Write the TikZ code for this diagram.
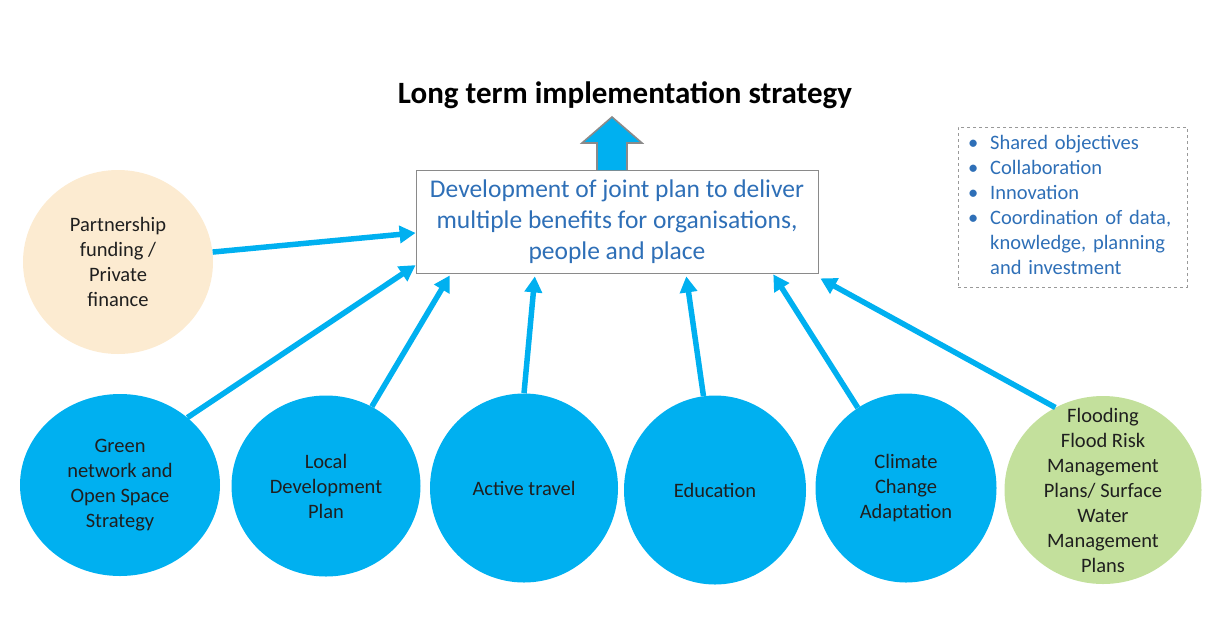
\documentclass[tikz,border=0pt]{standalone}
\usepackage{fontspec}
\setmainfont{Carlito}
\usetikzlibrary{shapes.geometric,arrows.meta,calc}

\definecolor{cyanblue}{HTML}{00B0F0}
\definecolor{peach}{HTML}{FCEBD1}
\definecolor{leafgreen}{HTML}{C3E09C}
\definecolor{plantext}{HTML}{2E6FB7}
\definecolor{edgegray}{HTML}{8A8A8A}

\tikzset{
	topic/.style = {ellipse, fill = cyanblue, inner sep = 0pt, align = center, text = black!88, font = \fontsize{20.5}{25}\selectfont},
	feed/.style = {draw = cyanblue, line width = 5.5pt, -{Triangle[length = 16pt, width = 17pt]}},
	planbox/.style = {draw = edgegray, thick, fill = white, align = center, text = plantext, minimum width = 402pt, minimum height = 103pt, font = \fontsize{25.5}{31}\selectfont}
}

\begin{document}
\begin{tikzpicture}[x = 1pt, y = -1pt]
	 \useasboundingbox (0, 0) rectangle (1228, 641);

	 \node[font = \fontsize{31}{34}\selectfont\bfseries] (title) at (625, 95) {Long term implementation strategy};

	 \node[planbox] (plan) at (617, 221.5) {Development of joint plan to deliver\\multiple benefits for organisations,\\people and place};

	 \draw[fill = cyanblue, draw = edgegray, line width = 1.6pt] (597, 170) -- (597, 143) -- (582, 143) -- (612, 117) -- (642, 143) -- (627, 143) -- (627, 170);

	 \node[draw = gray!80, dashed, thin, text width = 209pt, inner xsep = 10pt, align = left, minimum height = 160pt, text = plantext, font = \fontsize{20.5}{25}\selectfont] (aims) at (1072.5, 207) {%
		 \begin{tabular}{@{}l@{\hspace{12pt}}l@{}}
			 \textbullet & Shared objectives\\
			 \textbullet & Collaboration\\
			 \textbullet & Innovation\\
			 \textbullet & Coordination of data,\\
			 & knowledge, planning\\
			 & and investment
		 \end{tabular}};

	 \node[topic, fill = peach, minimum width = 190pt, minimum height = 184pt] (funding) at (118, 262) {Partnership\\funding /\\Private\\finance};
	 \node[topic, minimum width = 200pt, minimum height = 182pt] (green) at (120, 485) {Green\\network and\\Open Space\\Strategy};
	 \node[topic, minimum width = 189pt, minimum height = 181pt] (ldp) at (326, 486) {Local\\Development\\Plan};
	 \node[topic, minimum width = 188pt, minimum height = 189pt] (travel) at (524, 488) {Active travel};
	 \node[topic, minimum width = 182pt, minimum height = 189pt] (educ) at (715, 490) {Education};
	 \node[topic, minimum width = 181pt, minimum height = 189pt] (climate) at (906, 488) {Climate\\Change\\Adaptation};
	 \node[topic, fill = leafgreen, inner ysep = -26pt, minimum width = 197pt, minimum height = 188pt] (flood) at (1103, 490) {Flooding\\Flood Risk\\Management\\Plans/ Surface\\Water\\Management\\Plans};

	 \draw[feed] (funding.6) -- ($(plan.north west)!0.61!(plan.south west)$);
	 \draw[feed] (green.45) -- ($(plan.north west)!0.92!(plan.south west)$);
	 \draw[feed] (ldp.60) -- ($(plan.south west)!0.085!(plan.south east) + (0, 2)$);
	 \draw[feed] (travel.90) -- ($(plan.south west)!0.296!(plan.south east) + (0, 3)$);
	 \draw[feed] (educ.97) -- ($(plan.south west)!0.672!(plan.south east) + (0, 3)$);
	 \draw[feed] (climate.121) -- ($(plan.south west)!0.888!(plan.south east) + (0, 1)$);
	 \draw[feed] (flood.120) -- ($(plan.south east) + (2, 5)$);
\end{tikzpicture}
\end{document}
